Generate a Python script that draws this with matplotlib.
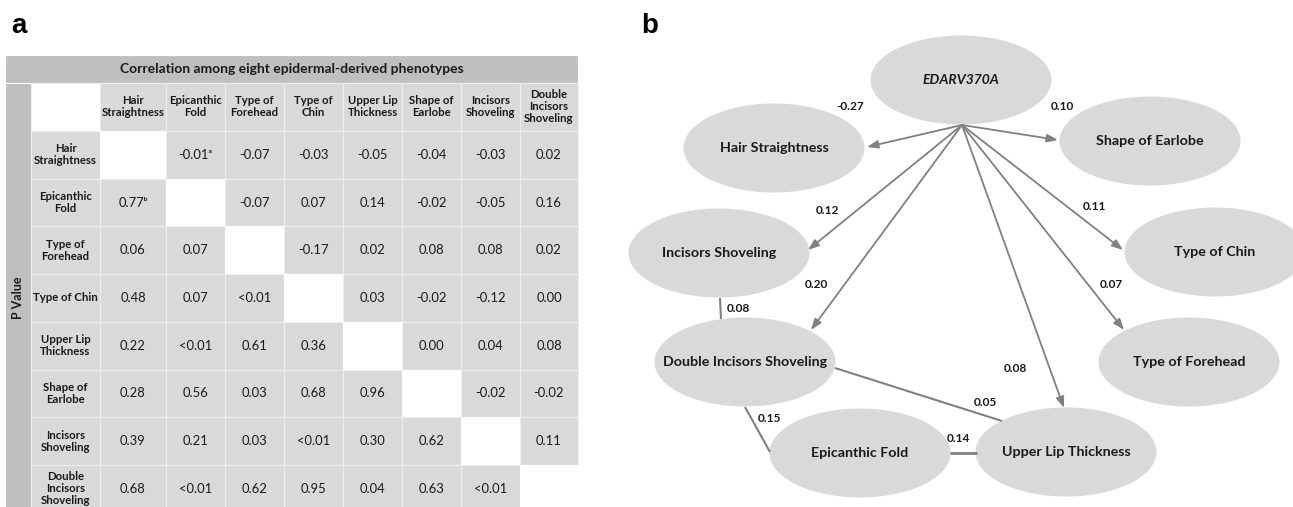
import matplotlib
matplotlib.use("Agg")
import matplotlib.pyplot as plt
from matplotlib.patches import Rectangle, Ellipse, FancyArrowPatch
from matplotlib import font_manager

# ---------------- data ----------------
col_labels = ["Hair\nStraightness", "Epicanthic\nFold", "Type of\nForehead", "Type of\nChin",
              "Upper Lip\nThickness", "Shape of\nEarlobe", "Incisors\nShoveling",
              "Double\nIncisors\nShoveling"]
row_labels = ["Hair\nStraightness", "Epicanthic\nFold", "Type of\nForehead", "Type of Chin",
              "Upper Lip\nThickness", "Shape of\nEarlobe", "Incisors\nShoveling",
              "Double\nIncisors\nShoveling"]
# upper triangle: correlation coefficients, lower triangle: P values, diagonal empty
cells = [
    ["", "-0.01\u1d43", "-0.07", "-0.03", "-0.05", "-0.04", "-0.03", "0.02"],
    ["0.77\u1d47", "", "-0.07", "0.07", "0.14", "-0.02", "-0.05", "0.16"],
    ["0.06", "0.07", "", "-0.17", "0.02", "0.08", "0.08", "0.02"],
    ["0.48", "0.07", "<0.01", "", "0.03", "-0.02", "-0.12", "0.00"],
    ["0.22", "<0.01", "0.61", "0.36", "", "0.00", "0.04", "0.08"],
    ["0.28", "0.56", "0.03", "0.68", "0.96", "", "-0.02", "-0.02"],
    ["0.39", "0.21", "0.03", "<0.01", "0.30", "0.62", "", "0.11"],
    ["0.68", "<0.01", "0.62", "0.95", "0.04", "0.63", "<0.01", ""],
]
table_title = "Correlation among eight epidermal-derived phenotypes"
side_label = "P Value"

gene = "EDARV370A"
gene_targets = ["Hair Straightness", "Shape of Earlobe", "Incisors Shoveling", "Type of Chin",
                "Double Incisors Shoveling", "Type of Forehead", "Upper Lip Thickness"]
gene_coefs = [-0.27, 0.10, 0.12, 0.11, 0.20, 0.07, 0.08]
pair_a = ["Incisors Shoveling", "Double Incisors Shoveling", "Double Incisors Shoveling",
          "Epicanthic Fold"]
pair_b = ["Double Incisors Shoveling", "Epicanthic Fold", "Upper Lip Thickness",
          "Upper Lip Thickness"]
pair_coefs = [0.08, 0.15, 0.05, 0.14]

# ---------------- layout (pixels) ----------------
W, H = 1293, 507
col_edges = [31, 100, 166, 225, 284, 343, 402, 461, 520, 578]
title_top, title_bot = 55, 82.5
head_top, head_bot = 82.5, 131
row_h = 47.7

node_pos = {
    gene: (961, 80),
    "Hair Straightness": (774, 148),
    "Shape of Earlobe": (1150, 141),
    "Incisors Shoveling": (719, 253),
    "Type of Chin": (1215, 252),
    "Double Incisors Shoveling": (745, 362),
    "Type of Forehead": (1189, 362),
    "Epicanthic Fold": (860, 453),
    "Upper Lip Thickness": (1066, 452),
}
node_w, node_h = 181, 89
arrow_origin = (962, 125)
arrow_tip = {
    "Hair Straightness": (867, 147),
    "Shape of Earlobe": (1058, 140),
    "Incisors Shoveling": (808, 250),
    "Type of Chin": (1123, 250),
    "Double Incisors Shoveling": (811, 330),
    "Type of Forehead": (1124, 330),
    "Upper Lip Thickness": (1064, 408),
}
gene_label_pos = {
    "Hair Straightness": (850, 107),
    "Shape of Earlobe": (1062, 107),
    "Incisors Shoveling": (827, 211),
    "Type of Chin": (1094, 207),
    "Double Incisors Shoveling": (816, 284),
    "Type of Forehead": (1111, 285),
    "Upper Lip Thickness": (1015, 368),
}
pair_lines = [((720, 298), (721, 319)), ((745, 407), (770, 452)),
              ((835, 368), (1002, 421)), ((950, 453), (977, 453))]
pair_label_pos = [(738, 308), (769, 418), (985, 402), (958, 438)]

# ---------------- fonts ----------------
names = {f.name for f in font_manager.fontManager.ttflist}
narrow = "Liberation Sans Narrow" in names
tfont = ["Lato", "DejaVu Sans"]
if narrow:
    nfont, nsize, esize = ["Liberation Sans Narrow", "DejaVu Sans"], 11.5, 9.2
else:
    nfont, nsize, esize = ["Lato", "DejaVu Sans"], 10.3, 8.6

GREY_DARK = "#bfbfbf"
GREY = "#d9d9d9"
LINE = "#808080"
TXT = "#1a1a1a"

fig = plt.figure(figsize=(W / 100, H / 100), dpi=100)
ax = fig.add_axes([0, 0, 1, 1])
ax.set_xlim(0, W)
ax.set_ylim(H, 0)
ax.axis("off")

# panel letters
ax.text(11, 33, "a", fontsize=20, fontweight="bold", family=["Liberation Sans", "DejaVu Sans"],
        ha="left", va="baseline")
ax.text(641, 33, "b", fontsize=20, fontweight="bold", family=["Liberation Sans", "DejaVu Sans"],
        ha="left", va="baseline")

# ---------------- table ----------------
ec = "#eeeeee"
x0, x1 = 5, col_edges[-1]
ax.add_patch(Rectangle((x0, title_top), x1 - x0, title_bot - title_top, fc=GREY_DARK, ec="white", lw=0.8))
ax.text((x0 + x1) / 2, (title_top + title_bot) / 2, table_title, fontsize=10.0, fontweight="bold",
        family=tfont, ha="center", va="center", color=TXT)
ax.add_patch(Rectangle((x0, head_top), col_edges[0] - x0, H + 20 - head_top, fc=GREY_DARK, ec="white", lw=0.8))
n = len(row_labels)
ax.text((x0 + col_edges[0]) / 2, 298, side_label, rotation=90, fontsize=9,
        fontweight="bold", family=tfont, ha="center", va="center", color=TXT)

# header row
ax.add_patch(Rectangle((col_edges[0], head_top), col_edges[1] - col_edges[0], head_bot - head_top,
                       fc="white", ec=ec, lw=0.8))
for j, lab in enumerate(col_labels):
    xa, xb = col_edges[j + 1], col_edges[j + 2]
    ax.add_patch(Rectangle((xa, head_top), xb - xa, head_bot - head_top, fc=GREY, ec=ec, lw=0.8))
    ax.text((xa + xb) / 2, (head_top + head_bot) / 2, lab, fontsize=8.2, fontweight="bold",
            family=tfont, ha="center", va="center", color=TXT, linespacing=1.12)

for i in range(n):
    ya = head_bot + i * row_h
    yb = ya + row_h
    ax.add_patch(Rectangle((col_edges[0], ya), col_edges[1] - col_edges[0], row_h, fc=GREY, ec=ec, lw=0.8))
    ax.text((col_edges[0] + col_edges[1]) / 2, (ya + yb) / 2, row_labels[i], fontsize=8.2,
            fontweight="bold", family=tfont, ha="center", va="center", color=TXT, linespacing=1.12)
    for j in range(n):
        xa, xb = col_edges[j + 1], col_edges[j + 2]
        val = cells[i][j]
        fc = "white" if i == j else GREY
        ax.add_patch(Rectangle((xa, ya), xb - xa, row_h, fc=fc, ec=ec if i != j else "white", lw=0.8))
        if val:
            ax.text((xa + xb) / 2, (ya + yb) / 2, val, fontsize=9.4, family=tfont,
                    ha="center", va="center", color=TXT)

# ---------------- network ----------------
for name, (cx, cy) in node_pos.items():
    ax.add_patch(Ellipse((cx, cy), node_w, node_h, fc=GREY, ec="none", zorder=1))
    if name == gene:
        ax.text(cx, cy, name, fontsize=nsize - 0.3, fontweight="bold", style="italic", family=nfont,
                ha="center", va="center", color=TXT, zorder=5)
    else:
        ax.text(cx, cy, name, fontsize=nsize, fontweight="bold", family=nfont,
                ha="center", va="center", color=TXT, zorder=5)

for tgt, coef in zip(gene_targets, gene_coefs):
    arr = FancyArrowPatch(arrow_origin, arrow_tip[tgt],
                          arrowstyle="-|>,head_length=0.65,head_width=0.24", mutation_scale=10,
                          color=LINE, lw=1.3, shrinkA=0, shrinkB=0, zorder=3)
    ax.add_patch(arr)
    lx, ly = gene_label_pos[tgt]
    ax.text(lx, ly, f"{coef:.2f}", fontsize=esize, fontweight="bold", family=nfont,
            ha="center", va="center", color=TXT, zorder=5)

for k, (a, b) in enumerate(zip(pair_a, pair_b)):
    (xa, ya), (xb, yb) = pair_lines[k]
    ax.plot([xa, xb], [ya, yb], color=LINE, lw=2.0 if k == 3 else 1.5, zorder=2,
            solid_capstyle="butt")
    lx, ly = pair_label_pos[k]
    ax.text(lx, ly, f"{pair_coefs[k]:.2f}", fontsize=esize, fontweight="bold", family=nfont,
            ha="center", va="center", color=TXT, zorder=5)

fig.savefig("out.png", dpi=100, facecolor="white")
